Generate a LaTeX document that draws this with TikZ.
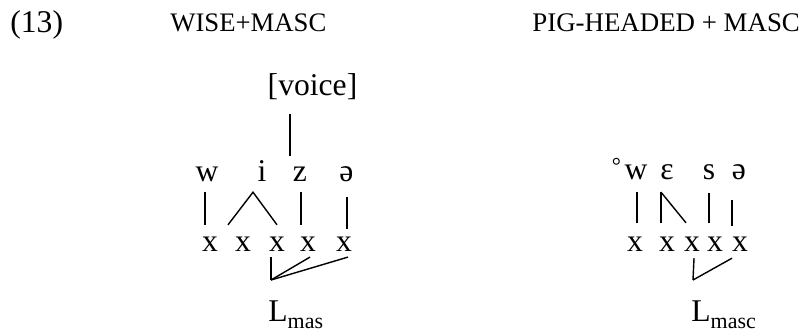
\documentclass[tikz,border=0pt]{standalone}
\usepackage{fontspec}
\setmainfont{Liberation Serif}
\usepackage{tikz}
\newcommand{\segfont}{\fontsize{18}{21}\selectfont}
\newcommand{\subfont}{\fontsize{12.5}{14}\selectfont}
\tikzstyle{seg}=[inner sep=0pt, text height=1ex, text depth=0pt, font=\segfont]
\tikzstyle{slot}=[seg]
\tikzstyle{gloss}=[inner sep=0pt, anchor=base west]
\tikzstyle{tie}=[draw, line width=0.8pt, -]

\begin{document}
\begin{tikzpicture}[x=0.02cm, y=0.02cm]
    \useasboundingbox (0,0) rectangle (803,-335);
    % Example number and glosses
    \node[gloss, font=\segfont] (num) at (10,-32) {(13)};
    \node[gloss, font=\fontsize{15.2}{18}\selectfont] (gl1) at (170,-31) {WISE+MASC};
    \node[gloss, font=\fontsize{15.3}{18}\selectfont] (gl2) at (532,-31) {PIG-HEADED + MASC};

    % Left form: segments, feature and skeleton
    \node[inner sep=0pt, anchor=base, font=\segfont] (voice) at (312.5,-95) {[voice]};
    \foreach \pos/\name/\txt in {{(207,-177.5)/w/w}, {(262,-177.5)/i/i}, {(300,-177.5)/z/z}, {(346.5,-177.5)/schwa/ə}}
        \node[seg] (\name) at \pos {\txt};
    \foreach \pos/\name in {{(210,-247.5)/x1}, {(243,-247.5)/x2}, {(277,-247.5)/x3}, {(308,-247.5)/x4}, {(344,-247.5)/x5}}
        \node[slot] (\name) at \pos {x};
    \node[gloss, font=\segfont] (Lmas) at (268,-321) {L\raisebox{-0.15cm}{\subfont mas}};
    \coordinate (mas-v) at (271,-280);

    % Right form
    \node[inner sep=0pt, anchor=north, font=\fontsize{13}{13}\selectfont] (deg) at (616.5,-157.5) {°};
    \foreach \pos/\name/\txt in {{(636,-175)/w2/w}, {(667,-175)/eps/ɛ}, {(709,-175)/s2/s}, {(739,-175)/schwa2/ə}}
        \node[seg] (\name) at \pos {\txt};
    \foreach \pos/\name in {{(635,-247)/rx1}, {(667,-247)/rx2}, {(692,-247)/rx3}, {(715,-247)/rx4}, {(740,-247)/rx5}}
        \node[slot] (\name) at \pos {x};
    \node[gloss, font=\segfont] (Lmasc) at (691,-321) {L\raisebox{-0.15cm}{\subfont masc}};
    \coordinate (masc-v) at (693,-280);

    % Association lines
    \draw[tie, shorten <=0.28cm, shorten >=0.35cm] ([shift={(-22.5,0)}]voice.south) -- ([shift={(-10,0)}]z.north);
    \foreach \a/\b/\dx/\s/\e in {w/x1/-2/0.21cm/0.37cm, z/x4/1/0.21cm/0.37cm, schwa/x5/0.5/0.31cm/0.29cm,
        w2/rx1/1/0.26cm/0.4cm, eps/rx2/-6/0.26cm/0.4cm, s2/rx4/0/0.28cm/0.4cm, schwa2/rx5/-7/0.42cm/0.34cm}
        \draw[tie, shorten <=\s, shorten >=\e] ([shift={(\dx,0)}]\a.south) -- ([shift={(\dx,0)}]\a.south |- \b.north);
    \draw[tie] ([shift={(-15,18.3)}]x2.north) -- ([shift={(-9,-10.3)}]i.south) -- ([shift={(0,18.3)}]x3.north);
    \draw[tie] ([shift={(-6,-12.8)}]eps.south) -- ([shift={(-6,19.8)}]rx3.north);

    % Lines to the tone
    \foreach \src/\dx in {x3/-6, x4/2, x5/4}
        \draw[tie] ([shift={(\dx,-5.2)}]\src.south) -- (mas-v);
    \foreach \src/\dx in {rx3/2, rx5/-8}
        \draw[tie] ([shift={(\dx,-6.8)}]\src.south) -- (masc-v);
\end{tikzpicture}
\end{document}
